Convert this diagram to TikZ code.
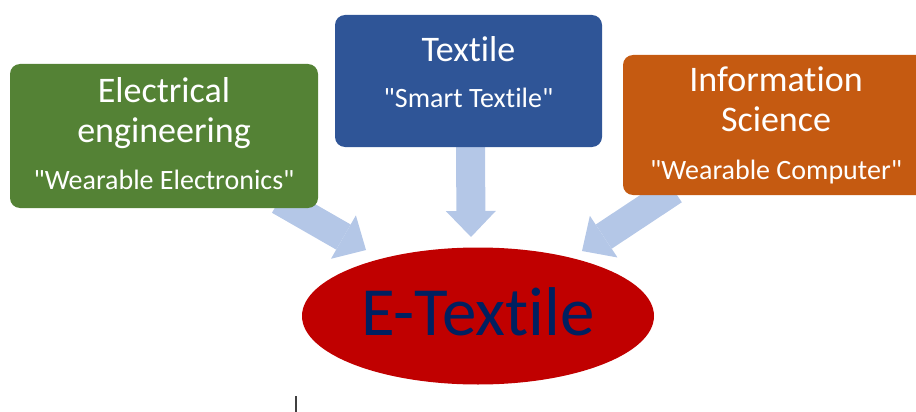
\documentclass[tikz,border=0pt]{standalone}
\usepackage{fontspec}
\setmainfont{Carlito}[Ligatures={TeXOff,NoCommon}]
\usetikzlibrary{arrows.meta,backgrounds,shapes.geometric,calc}

\definecolor{fieldgreen}{HTML}{548235}
\definecolor{fieldblue}{HTML}{2F5597}
\definecolor{fieldorange}{HTML}{C55A11}
\definecolor{flowblue}{HTML}{B4C7E7}
\definecolor{corered}{HTML}{C00000}
\definecolor{corenavy}{HTML}{002060}

\newcommand{\headfont}{\fontsize{36}{40}\selectfont}
\newcommand{\tagfont}{\fontsize{28}{40}\selectfont}
\newcommand{\sinkby}[1]{\rule[-#1]{0pt}{#1}}

\begin{document}
\begin{tikzpicture}[
    x=1pt, y=-1pt,
    field/.style={rectangle, rounded corners=10pt, text=white, align=center, inner sep=0pt, font=\headfont},
    core/.style={ellipse, fill=corered, text=corenavy, inner sep=0pt, minimum width=352pt, minimum height=137pt, font=\fontsize{69}{72}\selectfont},
    flow/.style={line width=29pt, draw=flowblue, -{Triangle[width=50pt, length=26pt, line width=0pt]}},
    caret/.style={draw=black!75, line width=1.5pt}
]
    \useasboundingbox (0,0) rectangle (916,412);

    % Fields
    \node[field, fill=fieldgreen, minimum width=308pt, minimum height=144pt] (elec) at (164,136)
        {Electrical\\engineering\\[7pt]\tagfont "Wearable Electronics"\sinkby{4pt}};
    \node[field, fill=fieldblue, minimum width=267pt, minimum height=132pt] (tex) at (468.5,81)
        {Textile\\[6pt]\tagfont "Smart Textile"\sinkby{17pt}};
    \node[field, fill=fieldorange, minimum width=306pt, minimum height=140pt] (info) at (776,125)
        {Information\\Science\\[8pt]\tagfont "Wearable Computer"\sinkby{4pt}};

    % Result
    \node[core] (core) at (478,316) {E-Textile\sinkby{8pt}};

    % Arrows into the result
    \coordinate (tipL) at (366,250);
    \coordinate (tipM) at (471,237);
    \coordinate (tipR) at (582,251);
    \begin{scope}[on background layer]
        \draw[flow] ($(elec.south east)+(-39,-8)$) -- (tipL);
        \draw[flow] ($(tex.south)+(2,-8)$) -- (tipM);
        \draw[flow] ($(info.south west)+(51,-5)$) -- (tipR);
    \end{scope}

    \draw[caret] (296,396) -- (296,412);
\end{tikzpicture}
\end{document}
